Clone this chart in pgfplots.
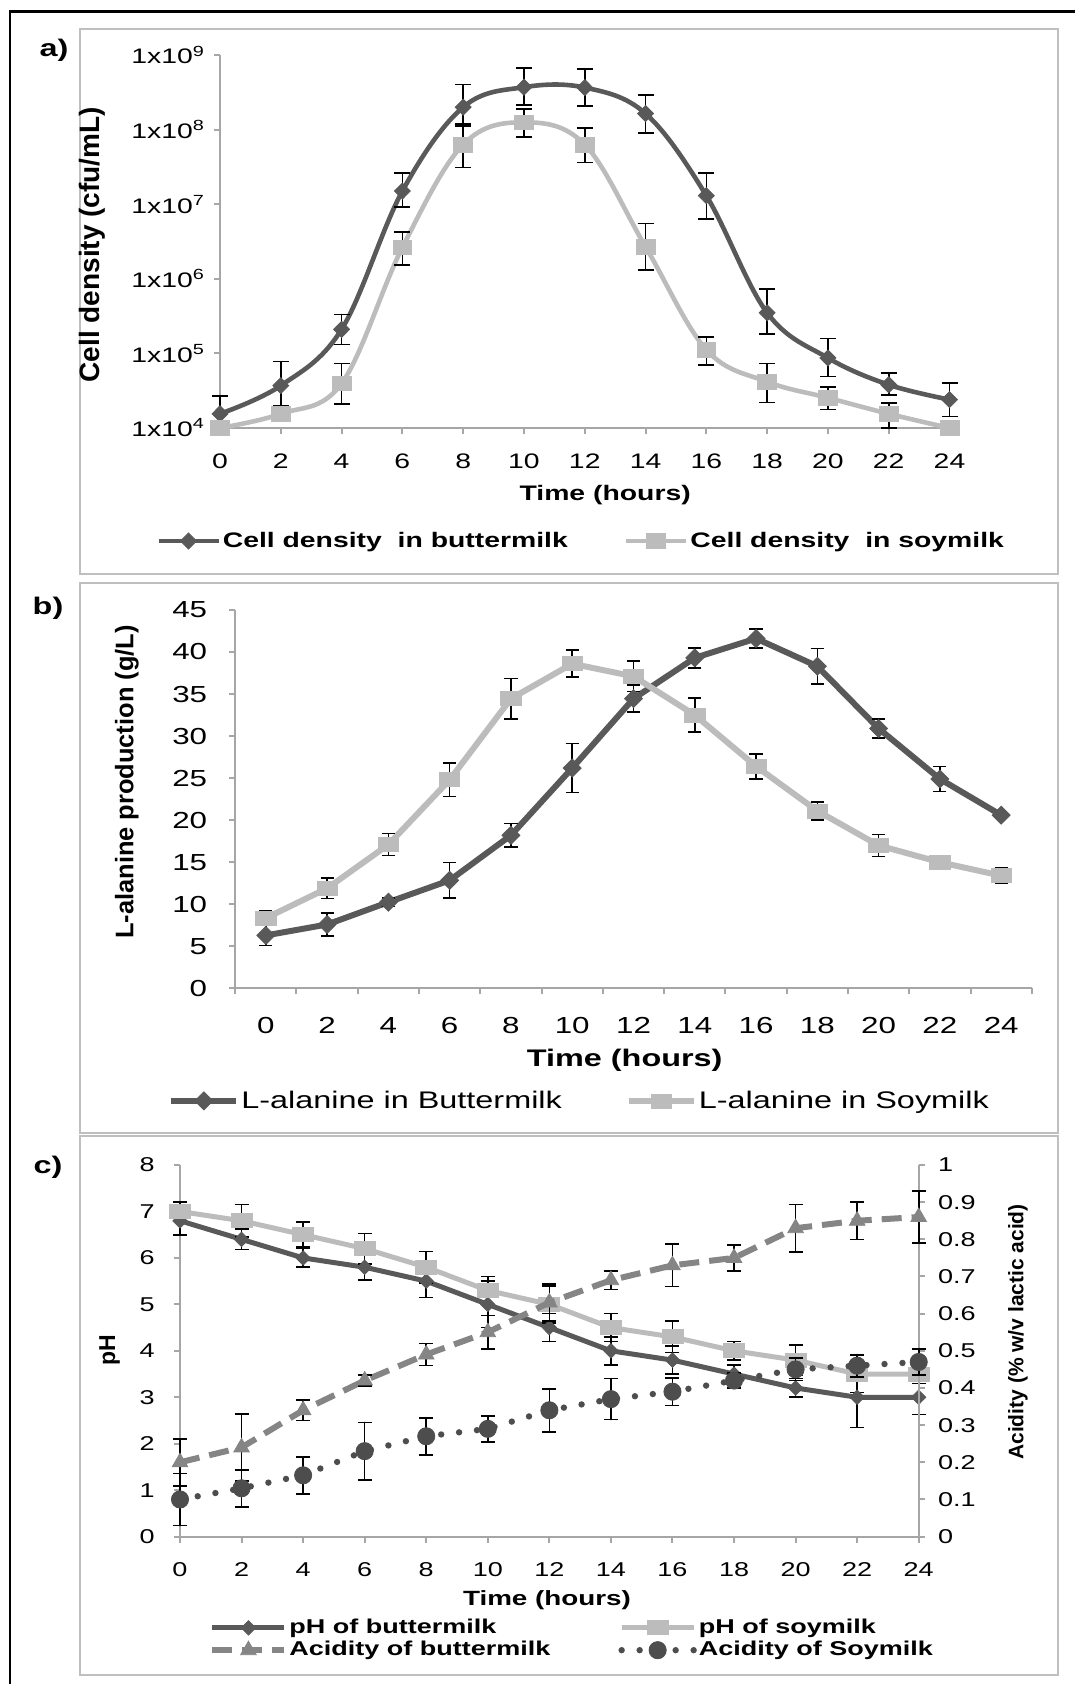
\documentclass[border=0pt]{standalone}
\usepackage{fontspec}
\setmainfont{Liberation Sans}[FakeStretch=1.35]
\newfontfamily\rotfont{Liberation Sans}
\usepackage{pgfplots}
\pgfplotsset{compat=1.18}
\usepackage{pgfplotstable}

\definecolor{dk}{HTML}{595959}
\definecolor{lt}{HTML}{BCBCBC}
\definecolor{md}{HTML}{858585}
\definecolor{dkc}{HTML}{4D4D4D}
\definecolor{axgray}{HTML}{A6A6A6}
\definecolor{boxgray}{HTML}{BFBFBF}
\newcommand{\fs}[1]{\fontsize{#1}{#1}\selectfont}

\pgfplotstableread{
t y ep em
0 1.55e4 1.15e4 0.55e4
2 3.7e4 4.1e4 1.72e4
4 2.1e5 1.24e5 0.78e5
6 1.5e7 1.1e7 5.8e6
8 2.0e8 2.03e8 0.88e8
10 3.7e8 2.97e8 1.55e8
12 3.66e8 2.79e8 1.57e8
14 1.64e8 1.29e8 7.42e7
16 1.3e7 1.33e7 6.7e6
18 3.5e5 3.86e5 1.67e5
20 8.7e4 7.1e4 3.8e4
22 3.8e4 1.7e4 1.05e4
24 2.4e4 1.63e4 0.98e4
}\aBut
\pgfplotstableread{
t y
0 1.0e4
2 1.55e4
4 3.95e4
6 2.63e6
8 6.3e7
10 1.25e8
12 6.3e7
14 2.69e6
16 1.12e5
18 4.17e4
20 2.54e4
22 1.55e4
24 1.0e4
}\aSoy
\pgfplotstableread{
t y ep em
4 3.95e4 3.41e4 1.86e4
6 2.63e6 1.63e6 1.11e6
8 6.3e7 5.5e7 3.2e7
10 1.25e8 6.4e7 4.47e7
12 6.3e7 4.3e7 2.7e7
14 2.69e6 2.79e6 1.37e6
16 1.12e5 5.5e4 4.24e4
18 4.17e4 3.19e4 1.97e4
20 2.54e4 0.99e4 0.77e4
22 1.55e4 0.6e4 0.55e4
}\aSoyE
\pgfplotstableread{
t y e
0 6.3 1.2
2 7.6 1.35
4 10.25 0.5
6 12.85 2.1
8 18.2 1.4
10 26.2 2.9
12 34.45 1.6
14 39.3 1.2
16 41.6 1.1
18 38.3 2.1
20 30.9 1.15
22 24.9 1.5
24 20.6 0.3
}\bBut
\pgfplotstableread{
t y e
0 8.36 0.9
2 11.9 1.2
4 17.1 1.3
6 24.8 2.0
8 34.45 2.4
10 38.6 1.6
12 37.1 1.8
14 32.5 2.0
16 26.4 1.5
18 21.1 1.05
20 17.0 1.3
22 15.0 0.3
24 13.4 0.9
}\bSoy
\pgfplotstableread{
t y e
0 6.8 0.3
2 6.4 0.22
4 6.0 0.2
6 5.8 0.28
8 5.5 0.35
10 5.0 0.5
12 4.5 0.3
14 4.0 0.3
16 3.8 0.3
18 3.5 0.2
20 3.2 0.2
22 3.0 0.65
24 3.0 0.37
}\cpHBut
\pgfplotstableread{
t y e
0 7.0 0.2
2 6.8 0.35
4 6.5 0.27
6 6.2 0.33
8 5.8 0.34
10 5.3 0.3
12 5.0 0.4
14 4.5 0.3
16 4.3 0.34
18 4.0 0.2
20 3.8 0.33
22 3.5 0.4
24 3.5 0.2
}\cpHSoy
\pgfplotstableread{
t y e
0 0.20 0.063
2 0.24 0.09
4 0.34 0.028
6 0.42 0.015
8 0.49 0.03
10 0.55 0.045
12 0.63 0.05
14 0.69 0.025
16 0.73 0.057
18 0.75 0.035
20 0.83 0.064
22 0.85 0.05
24 0.86 0.07
}\cAcBut
\pgfplotstableread{
t y e
0 0.10 0.07
2 0.13 0.05
4 0.165 0.05
6 0.23 0.077
8 0.27 0.05
10 0.29 0.035
12 0.34 0.058
14 0.37 0.055
16 0.39 0.037
18 0.42 0.02
20 0.45 0.03
22 0.46 0.03
24 0.47 0.035
}\cAcSoy

\pgfplotsset{
  panel/.style={scale only axis, anchor=south west, clip=false,
    axis line style={axgray,line width=1pt},
    tick style={axgray,line width=1pt},
    tick align=outside, major tick length=3pt,
    /pgf/number format/assume math mode=true,
    legend cell align=left},
  eb/.style={error bars/y dir=both, error bars/y explicit,
    error bars/error bar style={draw=black,line width=0.8pt,solid},
    error bars/error mark options={draw=black,line width=0.8pt,mark size=#1,solid,rotate=90}},
}

\begin{document}
\begin{tikzpicture}
\useasboundingbox (0,0) rectangle (537.5pt,-842pt);
% frame
\draw[black,line width=1.2pt] (5pt,-842pt) -- (5pt,-5.85pt) -- (537.5pt,-5.85pt);
\draw[boxgray,line width=1pt] (40pt,-14.5pt) rectangle (529pt,-287pt);
\draw[boxgray,line width=1pt] (40pt,-291.5pt) rectangle (529pt,-566.5pt);
\draw[boxgray,line width=1pt] (40pt,-568pt) rectangle (529pt,-837.5pt);
\node[font=\fs{12pt}\bfseries] at (27pt,-25pt) {a)};
\node[font=\fs{12pt}\bfseries] at (24pt,-304pt) {b)};
\node[font=\fs{12pt}\bfseries] at (24pt,-583.5pt) {c)};

% ---------- panel a ----------
\begin{axis}[panel,
  at={(110pt,-214pt)}, width=364.75pt, height=186.5pt,
  ymode=log, ymin=1e4, ymax=1e9, xmin=0, xmax=24,
  axis x line*=bottom, axis y line*=left,
  yminorticks=false,
  xtick={0,2,...,24},
  ytick={1e4,1e5,1e6,1e7,1e8,1e9},
  yticklabels={1x10\textsuperscript{4},1x10\textsuperscript{5},1x10\textsuperscript{6},1x10\textsuperscript{7},1x10\textsuperscript{8},1x10\textsuperscript{9}},
  ticklabel style={font=\fs{10.5pt}},
  xticklabel shift=6.5pt, yticklabel shift=1pt,
  xlabel={Time (hours)},
  xlabel style={font=\fs{10.5pt}\bfseries, at={(axis description cs:0.528,-0.1786)}, anchor=center},
  ylabel={Cell density (cfu/mL)},
  ylabel style={font=\rotfont\bfseries\fs{14pt}, at={(axis description cs:-0.1746,0.4917)}, anchor=center},
  legend columns=2,
  legend style={at={(axis description cs:-0.088,-0.303)}, anchor=west, draw=none, fill=none,
    font=\fs{10.5pt}\bfseries, inner sep=0pt, nodes={inner xsep=1pt},
    /tikz/every even column/.append style={column sep=27pt}},
  legend image code/.code={\draw[mark repeat=2,mark phase=2,#1] plot coordinates {(0pt,0pt) (15pt,0pt) (30pt,0pt)};},
]
\addplot[dk, line width=2.3pt, smooth, tension=0.6, mark=diamond*, mark size=4pt,
  mark options={xscale=1.33, fill=dk, draw=dk, line width=0.4pt}, eb=4pt]
  table[x=t, y=y, y error plus=ep, y error minus=em] {\aBut};
\addlegendentry{Cell density\ \ in buttermilk}
\addplot[lt, line width=2.3pt, smooth, tension=0.6, mark=square*, mark size=3.7pt,
  mark options={xscale=1.27, fill=lt, draw=lt, line width=0.4pt}]
  table[x=t, y=y] {\aSoy};
\addlegendentry{Cell density\ \ in soymilk}
\addplot[draw=none, mark=none, forget plot, eb=4pt]
  table[x=t, y=y, y error plus=ep, y error minus=em] {\aSoyE};
\end{axis}

% ---------- panel b ----------
\begin{axis}[panel,
  at={(117.6pt,-494.2pt)}, width=398.3pt, height=189.25pt,
  xmin=-1, xmax=25, ymin=0, ymax=45,
  axis x line*=bottom, axis y line*=left,
  xtick={0,2,...,24}, minor xtick={-1,1,...,25},
  major x tick style={draw=none}, minor tick length=3pt,
  ytick={0,5,...,45},
  ticklabel style={font=\fs{11.6pt}},
  xticklabel shift=8pt, yticklabel shift=7.5pt,
  xlabel={Time (hours)},
  xlabel style={font=\fs{12pt}\bfseries, at={(axis description cs:0.489,-0.1897)}, anchor=center},
  ylabel={L-alanine production (g/L)},
  ylabel style={font=\rotfont\bfseries\fs{12.7pt}, at={(axis description cs:-0.136,0.5453)}, anchor=center},
  legend columns=2,
  legend style={at={(axis description cs:-0.0844,-0.2972)}, anchor=west, draw=none, fill=none,
    font=\fs{12pt}, inner sep=0pt, nodes={inner xsep=1pt},
    /tikz/every even column/.append style={column sep=31pt}},
  legend image code/.code={\draw[mark repeat=2,mark phase=2,#1] plot coordinates {(0pt,0pt) (16.25pt,0pt) (32.5pt,0pt)};},
]
\addplot[dk, line width=3pt, mark=diamond*, mark size=4.5pt,
  mark options={xscale=1.33, fill=dk, draw=dk, line width=0.4pt}, eb=3.3pt]
  table[x=t, y=y, y error=e] {\bBut};
\addlegendentry{L-alanine in Buttermilk}
\addplot[lt, line width=3pt, mark=square*, mark size=3.5pt,
  mark options={xscale=1.45, fill=lt, draw=lt, line width=0.4pt}, eb=3.3pt]
  table[x=t, y=y, y error=e] {\bSoy};
\addlegendentry{L-alanine in Soymilk}
\end{axis}

% ---------- panel c ----------
\begin{axis}[panel,
  at={(90pt,-768.3pt)}, width=369.35pt, height=185.8pt,
  xmin=0, xmax=24, ymin=0, ymax=8,
  axis x line*=bottom, axis y line*=left,
  xtick={0,2,...,24}, ytick={0,1,...,8},
  ticklabel style={font=\fs{10pt}},
  xticklabel shift=6.3pt, yticklabel shift=6.2pt,
  xlabel={Time (hours)},
  xlabel style={font=\fs{10.3pt}\bfseries, at={(axis description cs:0.4968,-0.1711)}, anchor=center},
  ylabel={pH},
  ylabel style={font=\rotfont\bfseries\fs{11.5pt}, at={(axis description cs:-0.0952,0.502)}, anchor=center},
]
\addplot[dk, line width=2.5pt, mark=diamond*, mark size=3.6pt,
  mark options={xscale=1.33, fill=dk, draw=dk, line width=0.4pt}, eb=3.5pt]
  table[x=t, y=y, y error=e] {\cpHBut};
\addplot[lt, line width=2.5pt, mark=square*, mark size=3.5pt,
  mark options={xscale=1.5, fill=lt, draw=lt, line width=0.4pt}, eb=3.5pt]
  table[x=t, y=y, y error=e] {\cpHSoy};
\end{axis}
\begin{axis}[panel,
  at={(90pt,-768.3pt)}, width=369.35pt, height=185.8pt,
  xmin=0, xmax=24, ymin=0, ymax=1,
  axis x line=none, axis y line*=right,
  ytick={0,0.1,0.2,0.3,0.4,0.5,0.6,0.7,0.8,0.9,1},
  ticklabel style={font=\fs{10pt}},
  yticklabel shift=3.2pt,
  ylabel={Acidity (\% w/v lactic acid)},
  ylabel style={font=\rotfont\bfseries\fs{10.5pt}, at={(axis description cs:1.1344,0.5506)}, anchor=center},
  legend columns=2,
  legend style={at={(axis description cs:0.0393,-0.2756)}, anchor=west, draw=none, fill=none,
    font=\fs{10pt}\bfseries, inner sep=0pt, nodes={inner xsep=1pt, inner ysep=1.2pt},
    /tikz/every even column/.append style={column sep=33pt}},
  legend image code/.code={\draw[mark repeat=2,mark phase=2,#1] plot coordinates {(0pt,0pt) (18pt,0pt) (36pt,0pt)};},
]
\addlegendimage{dk, line width=2.5pt, mark=diamond*, mark size=3.6pt, mark options={xscale=1.33, fill=dk, draw=dk, line width=0.4pt}}
\addlegendentry{pH of buttermilk}
\addlegendimage{lt, line width=2.5pt, mark=square*, mark size=3.5pt, mark options={xscale=1.5, fill=lt, draw=lt, line width=0.4pt}}
\addlegendentry{pH of soymilk}
\addplot[md, line width=3pt, dash pattern=on 10pt off 5pt, mark=triangle*, mark size=4.5pt,
  mark options={solid, fill=md, draw=md, line width=0.4pt}, eb=3.5pt]
  table[x=t, y=y, y error=e] {\cAcBut};
\addlegendentry{Acidity of buttermilk}
\addplot[dkc, line width=3.2pt, line cap=round, dash pattern=on 0pt off 9pt, mark=*, mark size=4.3pt,
  mark options={solid, fill=dkc, draw=dkc, line width=0.4pt}, eb=3.5pt]
  table[x=t, y=y, y error=e] {\cAcSoy};
\addlegendentry{Acidity of Soymilk}
\end{axis}
\end{tikzpicture}
\end{document}
